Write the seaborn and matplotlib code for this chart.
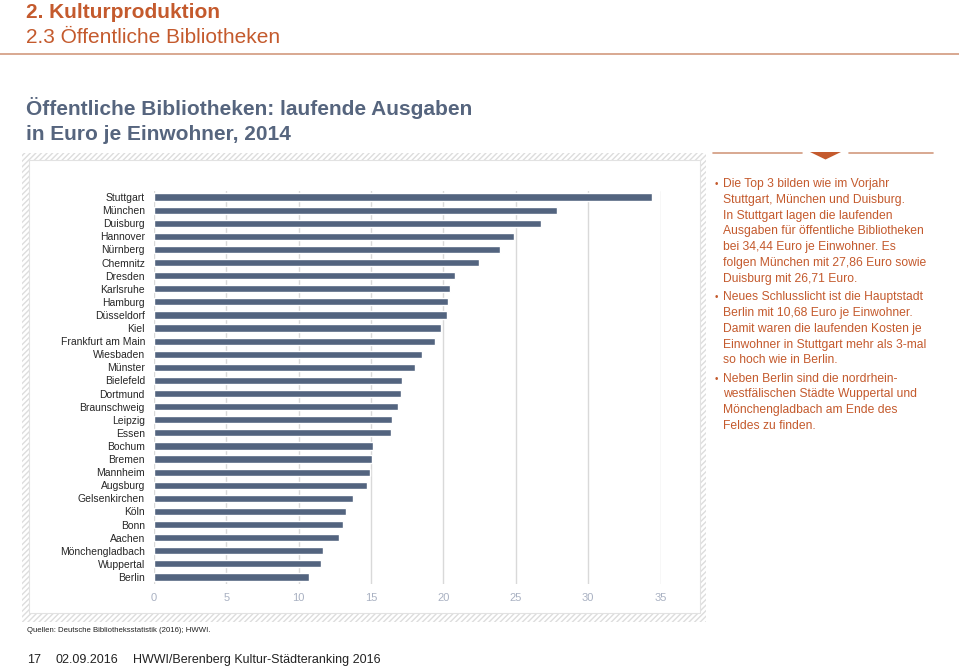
import matplotlib
matplotlib.use("Agg")
import matplotlib.pyplot as plt
import seaborn as sns
from matplotlib.patches import Rectangle, Polygon

# Daten: laufende Ausgaben öffentlicher Bibliotheken in Euro je Einwohner, 2014
staedte = ["Stuttgart", "München", "Duisburg", "Hannover", "Nürnberg", "Chemnitz",
           "Dresden", "Karlsruhe", "Hamburg", "Düsseldorf", "Kiel", "Frankfurt am Main",
           "Wiesbaden", "Münster", "Bielefeld", "Dortmund", "Braunschweig", "Leipzig",
           "Essen", "Bochum", "Bremen", "Mannheim", "Augsburg", "Gelsenkirchen", "Köln",
           "Bonn", "Aachen", "Mönchengladbach", "Wuppertal", "Berlin"]
ausgaben = [34.44, 27.86, 26.71, 24.89, 23.91, 22.43,
            20.78, 20.46, 20.29, 20.26, 19.82, 19.42,
            18.51, 18.07, 17.13, 17.08, 16.88, 16.42,
            16.39, 15.16, 15.08, 14.94, 14.69, 13.73, 13.29,
            13.04, 12.79, 11.71, 11.54, 10.68]
x_ticks = [0, 5, 10, 15, 20, 25, 30, 35]

kopf = ["2. Kulturproduktion", "2.3 Öffentliche Bibliotheken"]
titel = ["Öffentliche Bibliotheken: laufende Ausgaben", "in Euro je Einwohner, 2014"]
absaetze = [
    ["Die Top 3 bilden wie im Vorjahr",
     "Stuttgart, München und Duisburg.",
     "In Stuttgart lagen die laufenden",
     "Ausgaben für öffentliche Bibliotheken",
     "bei 34,44 Euro je Einwohner. Es",
     "folgen München mit 27,86 Euro sowie",
     "Duisburg mit 26,71 Euro."],
    ["Neues Schlusslicht ist die Hauptstadt",
     "Berlin mit 10,68 Euro je Einwohner.",
     "Damit waren die laufenden Kosten je",
     "Einwohner in Stuttgart mehr als 3-mal",
     "so hoch wie in Berlin."],
    ["Neben Berlin sind die nordrhein-",
     "westfälischen Städte Wuppertal und",
     "Mönchengladbach am Ende des",
     "Feldes zu finden."],
]
quelle = "Quellen: Deutsche Bibliotheksstatistik (2016); HWWI."
fuss = ["17", "02.09.2016", "HWWI/Berenberg Kultur-Städteranking 2016"]

ORANGE = "#C45A2D"
SLATE = "#56657E"
BAR = "#53647F"

sns.set_theme(style="white")
plt.rcParams['font.family'] = ['Liberation Sans', 'DejaVu Sans']

fig = plt.figure(figsize=(9.59, 6.68), dpi=100)

# Hintergrund-Achse in Pixelkoordinaten
bg = fig.add_axes([0, 0, 1, 1])
bg.set_xlim(0, 959)
bg.set_ylim(668, 0)
bg.axis("off")

# Kopfzeilen
bg.text(26, 18, kopf[0], color=ORANGE, fontsize=15, fontweight="bold", va="baseline")
bg.text(26, 43, kopf[1], color=ORANGE, fontsize=15, va="baseline")
bg.plot([0, 959], [54, 54], color="#D29A7E", lw=1.2)

bg.text(26, 115, titel[0], color=SLATE, fontsize=15, fontweight="bold", va="baseline")
bg.text(26, 140, titel[1], color=SLATE, fontsize=15, fontweight="bold", va="baseline")

# Schraffierter Rahmen um das Diagramm
bg.add_patch(Rectangle((22, 153), 684, 469, facecolor="white", edgecolor="#DDDDDD",
                       hatch="//////", lw=0))
bg.add_patch(Rectangle((29, 160), 671, 453, facecolor="white", edgecolor="#E2E2E2", lw=0.8))

# Dekoration über dem Textblock
bg.plot([713, 802], [153, 153], color="#D29A7E", lw=1.2)
bg.plot([849, 933], [153, 153], color="#D29A7E", lw=1.2)
bg.add_patch(Polygon([[810, 152], [841, 152], [825.5, 159.5]], closed=True,
                     facecolor=ORANGE, edgecolor="none"))

# Textblock rechts
y = 184
for absatz in absaetze:
    bg.text(715, y, "•", color=ORANGE, fontsize=7, va="center")
    for zeile in absatz:
        bg.text(723, y, zeile, color=ORANGE, fontsize=8.7, va="center")
        y += 15.8
    y += 2.5

# Fußzeilen
bg.text(27, 631, quelle, color="#222222", fontsize=5.6, va="center")
bg.text(27, 660, fuss[0], color="#222222", fontsize=9, va="center")
bg.text(56, 660, fuss[1], color="#222222", fontsize=9, va="center")
bg.text(133, 660, fuss[2], color="#222222", fontsize=9, va="center")

# Balkendiagramm
ax = fig.add_axes([154 / 959, 1 - 583.5 / 668, (660.5 - 154) / 959, 393 / 668])
ax.set_facecolor("none")
sns.barplot(x=ausgaben, y=staedte, orient="h", color=BAR, saturation=1,
            width=0.55, ax=ax, zorder=3)
ax.set_xlim(0, 35)
ax.set_xticks(x_ticks)
ax.set_xticklabels([str(t) for t in x_ticks])
ax.grid(axis="x", color="#D9D9D9", lw=1)
ax.grid(axis="y", visible=False)
ax.set_axisbelow(True)
for s in ax.spines.values():
    s.set_visible(False)
ax.tick_params(axis="y", length=0, pad=6.5, labelsize=7.5, labelcolor="#262626")
ax.tick_params(axis="x", length=0, pad=7, labelsize=8, labelcolor="#A9B1C2")
ax.set_xlabel("")
ax.set_ylabel("")

fig.savefig("out.png", dpi=100)
